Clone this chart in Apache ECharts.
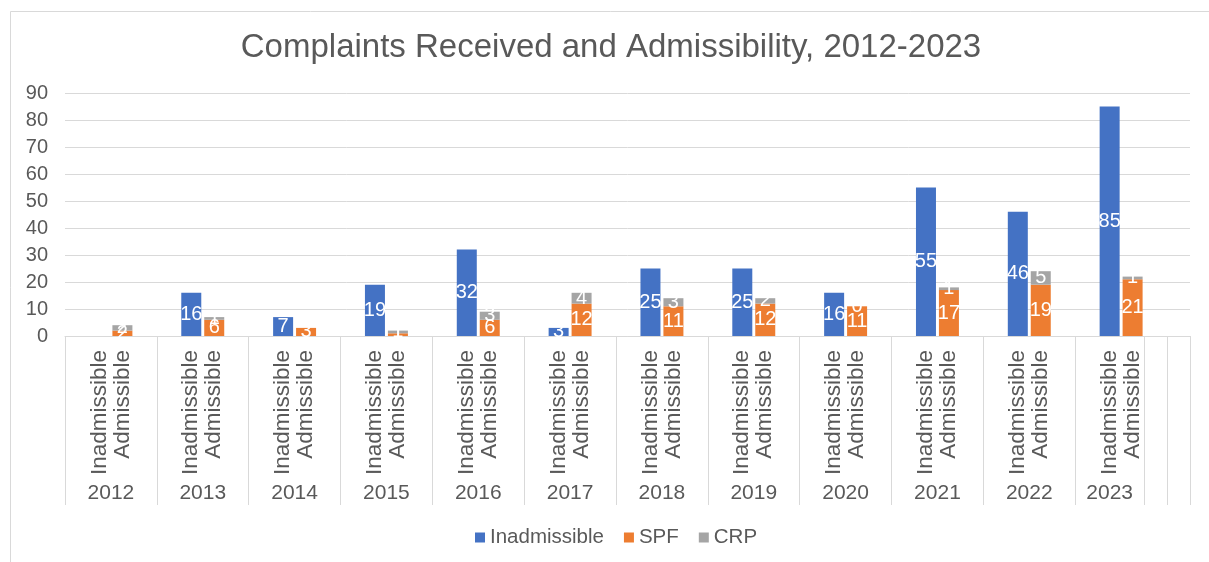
<!DOCTYPE html>
<html>
<head>
<meta charset="utf-8">
<title>Complaints Received and Admissibility, 2012-2023</title>
<script src="https://cdn.jsdelivr.net/npm/echarts@6/dist/echarts.min.js"></script>
<style>
  html, body { margin: 0; padding: 0; background: #ffffff; }
  #chart { width: 1209px; height: 562px; }
</style>
</head>
<body>
<div id="chart"></div>
<script>
// Complaints per year, split into inadmissible and admissible (SPF / CRP)
const years = ['2012', '2013', '2014', '2015', '2016', '2017', '2018', '2019', '2020', '2021', '2022', '2023'];
const rowLabels = ['Inadmissible', 'Admissible'];
const inadmissible = [null, 16, 7, 19, 32, 3, 25, 25, 16, 55, 46, 85];
const spf = [2, 6, 3, 1, 6, 12, 11, 12, 11, 17, 19, 21];
const crp = [2, 1, null, 1, 3, 4, 3, 2, 0, 1, 5, 1];
const yTicks = [0, 10, 20, 30, 40, 50, 60, 70, 80, 90];

const GRID = '#d9d9d9';
const TEXT = '#595959';
const FONT = 'Liberation Sans, Arial, sans-serif';

// Each year occupies a block of cells: blank, Inadmissible, Admissible, blank.
// The last year has no trailing blank, and two empty cells close the axis.
const groups = years.map((y, i) => ({ year: y, size: i < years.length - 1 ? 4 : 3, yi: i }));
groups.push({ year: '', size: 1, yi: -1 }, { year: '', size: 1, yi: -1 });

const cats = [];
const inadData = [], spfData = [], crpData = [];
const groupStarts = [];
groups.forEach(g => {
  const start = cats.length;
  groupStarts.push(start);
  for (let k = 0; k < g.size; k++) {
    let label = '';
    let a = '-', b = '-', c = '-';
    if (g.yi >= 0 && k === 1) {
      label = rowLabels[0];
      a = inadmissible[g.yi] == null ? '-' : inadmissible[g.yi];
    } else if (g.yi >= 0 && k === 2) {
      label = rowLabels[1];
      b = spf[g.yi] == null ? '-' : spf[g.yi];
      c = crp[g.yi] == null ? '-' : crp[g.yi];
    }
    cats.push(label);
    inadData.push(a); spfData.push(b); crpData.push(c);
  }
});
const nCells = cats.length;

// Outer (year) level: half-cell points, labels at block centres, ticks at block edges
const outerCats = new Array(2 * nCells + 1).fill('');
const outerEdges = new Set([2 * nCells]);
groups.forEach((g, i) => {
  const s = groupStarts[i];
  outerEdges.add(2 * s);
  outerCats[2 * s + g.size] = g.year;
});

const labelStyle = {
  show: true,
  position: 'inside',
  color: '#ffffff',
  fontSize: 20,
  fontFamily: FONT
};

const chart = echarts.init(document.getElementById('chart'), null, { renderer: 'canvas' });
chart.setOption({
  animation: false,
  backgroundColor: '#ffffff',
  title: {
    text: 'Complaints Received and Admissibility, 2012-2023',
    left: 606,
    top: 26,
    textAlign: 'center',
    textStyle: { color: TEXT, fontSize: 33, fontWeight: 'normal', fontFamily: FONT }
  },
  legend: {
    left: 470,
    top: 522,
    itemWidth: 10,
    itemHeight: 10,
    itemGap: 20,
    icon: 'rect',
    textStyle: { color: TEXT, fontSize: 20.5, fontFamily: FONT },
    data: ['Inadmissible', 'SPF', 'CRP']
  },
  grid: { left: 65, right: 19, top: 93, bottom: 226, containLabel: false },
  xAxis: [
    {
      type: 'category',
      data: cats,
      position: 'bottom',
      axisLine: { show: true, lineStyle: { color: GRID, width: 1 } },
      axisTick: { show: false },
      axisLabel: {
        interval: 0,
        rotate: 90,
        margin: 14,
        color: TEXT,
        fontSize: 22.5,
        fontFamily: FONT
      },
      splitLine: { show: false }
    },
    {
      type: 'category',
      data: outerCats,
      boundaryGap: false,
      position: 'bottom',
      axisLine: { show: false },
      axisTick: {
        show: true,
        interval: (idx) => outerEdges.has(idx),
        length: 169,
        lineStyle: { color: GRID, width: 1 }
      },
      axisLabel: {
        interval: 0,
        margin: 147,
        color: TEXT,
        fontSize: 21,
        fontFamily: FONT
      },
      splitLine: { show: false }
    }
  ],
  yAxis: {
    type: 'value',
    min: yTicks[0],
    max: yTicks[yTicks.length - 1],
    interval: yTicks[1] - yTicks[0],
    axisLine: { show: false },
    axisTick: { show: false },
    axisLabel: { color: TEXT, fontSize: 20, fontFamily: FONT, margin: 17 },
    splitLine: { lineStyle: { color: GRID, width: 1 } }
  },
  graphic: [
    {
      type: 'rect',
      shape: { x: 10.5, y: 11.5, width: 1300, height: 700 },
      style: { fill: 'none', stroke: GRID, lineWidth: 1 },
      silent: true
    }
  ],
  series: [
    {
      name: 'Inadmissible',
      type: 'bar',
      stack: 'total',
      barWidth: 20,
      itemStyle: { color: '#4472C4' },
      label: labelStyle,
      data: inadData
    },
    {
      name: 'SPF',
      type: 'bar',
      stack: 'total',
      barWidth: 20,
      itemStyle: { color: '#ED7D31' },
      label: labelStyle,
      data: spfData
    },
    {
      name: 'CRP',
      type: 'bar',
      stack: 'total',
      barWidth: 20,
      itemStyle: { color: '#A5A5A5' },
      label: labelStyle,
      data: crpData
    }
  ]
});
</script>
</body>
</html>
